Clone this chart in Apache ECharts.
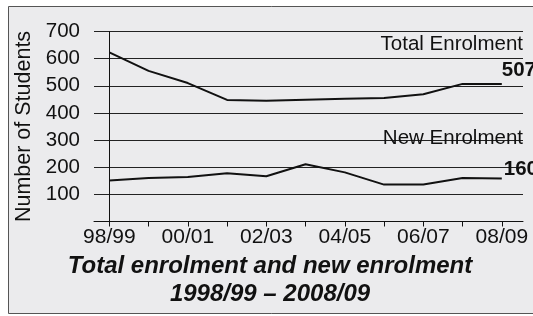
<!DOCTYPE html>
<html><head><meta charset="utf-8">
<script src="https://cdn.jsdelivr.net/npm/echarts@6/dist/echarts.min.js"></script>
<style>html,body{margin:0;padding:0;background:#fff}#c{width:533px;height:316px}</style>
</head><body><div id="c"></div>
<script>
const periods = ['98/99','99/00','00/01','01/02','02/03','03/04','04/05','05/06','06/07','07/08','08/09'];
const totalEnrolment = [623,555,510,448,445,449,452,455,469,507,507];
const newEnrolment = [151,160,164,178,167,211,181,136,136,160,158];
const yTicks = [0,100,200,300,400,500,600,700];
const labelIdx = [0,2,4,6,8,10];
const tickIdx = periods.map((p,i)=>i);

const F = '"Liberation Sans", Arial, Helvetica, sans-serif';
const chart = echarts.init(document.getElementById('c'), null, {renderer:'canvas'});
chart.setOption({
  backgroundColor:'#ffffff',
  animation:false,
  graphic:[
    {type:'rect', z:-10, shape:{x:8.5,y:6.5,width:540,height:307}, style:{fill:'#ebebed',stroke:'#555',lineWidth:1}},
    {type:'text', x:523, y:44, z:10, style:{text:'Total Enrolment', font:'20.5px '+F, fill:'#111', align:'right', verticalAlign:'middle'}},
    {type:'text', x:523, y:138, z:10, style:{text:'New Enrolment', font:'20.5px '+F, fill:'#111', align:'right', verticalAlign:'middle'}},
    {type:'text', x:270, y:266, z:10, style:{text:'Total enrolment and new enrolment', font:'italic bold 24px '+F, fill:'#111', align:'center', verticalAlign:'middle'}},
    {type:'text', x:270, y:294, z:10, style:{text:'1998/99 – 2008/09', font:'italic bold 24px '+F, fill:'#111', align:'center', verticalAlign:'middle'}}
  ],
  grid:{left:94, top:31.5, right:10, bottom:94.5, containLabel:false},
  xAxis:{
    type:'value', min:-0.39, max:10.54,
    axisLine:{show:true, onZero:false, lineStyle:{color:'#111', width:1}},
    axisTick:{show:true, inside:false, length:5, customValues:tickIdx, lineStyle:{color:'#111'}},
    axisLabel:{customValues:labelIdx, formatter:v=>periods[Math.round(v)], color:'#111', fontFamily:F, fontSize:21, margin:5},
    splitLine:{show:false}
  },
  yAxis:{
    type:'value', min:0, max:700, interval:100,
    name:'Number of Students', nameLocation:'middle', nameGap:59,
    nameTextStyle:{color:'#111', fontFamily:F, fontSize:21.5},
    axisLine:{show:true, lineStyle:{color:'#111', width:1}},
    axisTick:{show:false},
    axisLabel:{formatter:v=>v===0?'':String(v), color:'#111', fontFamily:F, fontSize:20.5, margin:14},
    splitLine:{show:true, lineStyle:{color:'#222', width:1}}
  },
  series:[
    {type:'line', data:totalEnrolment.map((v,i)=>[i,v]), symbol:'none', lineStyle:{color:'#111', width:2},
     endLabel:{show:true, formatter:'507', color:'#111', fontFamily:F, fontWeight:'bold', fontSize:20.5, offset:[-8,-14]}},
    {type:'line', data:newEnrolment.map((v,i)=>[i,v]), symbol:'none', lineStyle:{color:'#111', width:2},
     endLabel:{show:true, formatter:'160', color:'#111', fontFamily:F, fontWeight:'bold', fontSize:20.5, offset:[-6,-9]}}
  ]
});
</script></body></html>
